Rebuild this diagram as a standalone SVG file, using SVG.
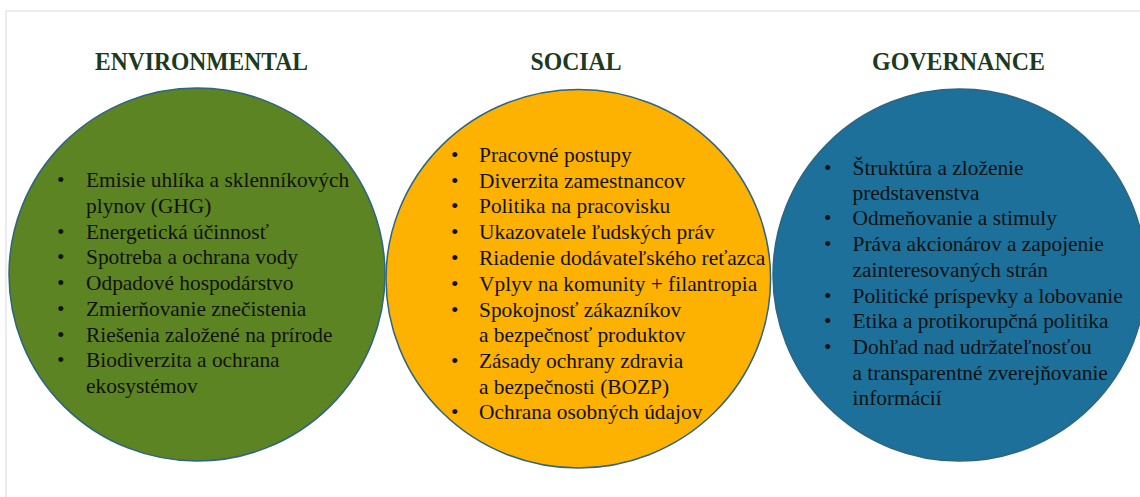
<svg xmlns="http://www.w3.org/2000/svg" width="1140" height="497" viewBox="0 0 1140 497">
<style>
.frame{fill:none;stroke:#ececec;stroke-width:2}
.circ{stroke:#2e6580;stroke-width:1.5}
.title{font-family:"Liberation Serif","Times New Roman",serif;font-weight:bold;font-size:25px;fill:#1b3a20;text-anchor:middle}
.item{font-family:"Liberation Serif","Times New Roman",serif;font-size:21.4px;fill:#111111}
</style>
<rect width="1140" height="497" fill="#ffffff"/>
<path class="frame" d="M6,497 V11 H1140"/>
<g id="environmental">
<ellipse class="circ" cx="197" cy="274.5" rx="188" ry="186.5" fill="#5d8423"/>
<text class="title" x="201.5" y="70" textLength="213" lengthAdjust="spacingAndGlyphs">ENVIRONMENTAL</text>
<g class="item">
<text x="57" y="187">•</text><text x="86" y="187">Emisie uhlíka a sklenníkových</text>
<text x="86" y="213">plynov (GHG)</text>
<text x="57" y="238.5">•</text><text x="86" y="238.5">Energetická účinnosť</text>
<text x="57" y="264">•</text><text x="86" y="264">Spotreba a ochrana vody</text>
<text x="57" y="290">•</text><text x="86" y="290">Odpadové hospodárstvo</text>
<text x="57" y="316">•</text><text x="86" y="316">Zmierňovanie znečistenia</text>
<text x="57" y="341.5">•</text><text x="86" y="341.5">Riešenia založené na prírode</text>
<text x="57" y="367">•</text><text x="86" y="367">Biodiverzita a ochrana</text>
<text x="86" y="392.5">ekosystémov</text>
</g>
</g>
<g id="social">
<ellipse class="circ" cx="578.3" cy="278.7" rx="192.3" ry="189.3" fill="#fdb100"/>
<text class="title" x="576" y="70" textLength="91" lengthAdjust="spacingAndGlyphs">SOCIAL</text>
<g class="item">
<text x="451" y="162">•</text><text x="479" y="162">Pracovné postupy</text>
<text x="451" y="187.5">•</text><text x="479" y="187.5">Diverzita zamestnancov</text>
<text x="451" y="213">•</text><text x="479" y="213">Politika na pracovisku</text>
<text x="451" y="239">•</text><text x="479" y="239">Ukazovatele ľudských práv</text>
<text x="451" y="265">•</text><text x="479" y="265">Riadenie dodávateľského reťazca</text>
<text x="451" y="290.5">•</text><text x="479" y="290.5">Vplyv na komunity + filantropia</text>
<text x="451" y="316.5">•</text><text x="479" y="316.5">Spokojnosť zákazníkov</text>
<text x="479" y="342">a bezpečnosť produktov</text>
<text x="451" y="368">•</text><text x="479" y="368">Zásady ochrany zdravia</text>
<text x="479" y="393.5">a bezpečnosti (BOZP)</text>
<text x="451" y="419">•</text><text x="479" y="419">Ochrana osobných údajov</text>
</g>
</g>
<g id="governance">
<ellipse class="circ" cx="959.5" cy="275" rx="186.5" ry="186" fill="#1c7099"/>
<text class="title" x="958.5" y="70" textLength="173" lengthAdjust="spacingAndGlyphs">GOVERNANCE</text>
<g class="item">
<text x="824" y="174.5">•</text><text x="852.5" y="174.5">Štruktúra a zloženie</text>
<text x="852.5" y="200">predstavenstva</text>
<text x="824" y="225">•</text><text x="852.5" y="225">Odmeňovanie a stimuly</text>
<text x="824" y="251">•</text><text x="852.5" y="251">Práva akcionárov a zapojenie</text>
<text x="852.5" y="277">zainteresovaných strán</text>
<text x="824" y="302.5">•</text><text x="852.5" y="302.5">Politické príspevky a lobovanie</text>
<text x="824" y="328">•</text><text x="852.5" y="328">Etika a protikorupčná politika</text>
<text x="824" y="353.5">•</text><text x="852.5" y="353.5">Dohľad nad udržateľnosťou</text>
<text x="852.5" y="379.5">a transparentné zverejňovanie</text>
<text x="852.5" y="405">informácií</text>
</g>
</g>
</svg>
